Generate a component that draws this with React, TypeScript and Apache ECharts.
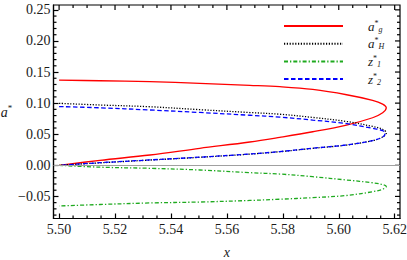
import React, { useEffect, useRef } from "react";
import * as echarts from "echarts";

// a_g* (red)
const agPts: [number, number][] = [
  [5.5, 0.137], [5.5146, 0.136], [5.5325, 0.1345], [5.5503, 0.1318], [5.5682, 0.1286],
  [5.5789, 0.1264], [5.5907, 0.122], [5.6028, 0.1135], [5.6121, 0.1045], [5.6157, 0.0985],
  [5.617, 0.0925],
  [5.6157, 0.0845], [5.6121, 0.0765], [5.6028, 0.0648], [5.5907, 0.054], [5.5789, 0.045],
  [5.5682, 0.0375], [5.5503, 0.0273], [5.5325, 0.0166], [5.5146, 0.008], [5.5, 0.0],
];
// a_H* (black dotted)
const aHPts: [number, number][] = [
  [5.5, 0.0997], [5.5146, 0.097], [5.5325, 0.0942], [5.5503, 0.0895], [5.5682, 0.0849],
  [5.5789, 0.0822], [5.5907, 0.077], [5.6028, 0.0705], [5.6121, 0.0625], [5.6157, 0.058],
  [5.617, 0.052],
  [5.6157, 0.0455], [5.6121, 0.0398], [5.6028, 0.0326], [5.5907, 0.0273], [5.5789, 0.0219],
  [5.5682, 0.018], [5.5503, 0.0129], [5.5325, 0.0085], [5.5146, 0.004], [5.5, 0.0],
];
// z_1* (green dash-dot)
const z1Pts: [number, number][] = [
  [5.5, 0.0], [5.5146, -0.003], [5.5325, -0.0048], [5.5503, -0.0075], [5.5682, -0.0118],
  [5.5789, -0.014], [5.5907, -0.0183], [5.6028, -0.0236], [5.6121, -0.028], [5.6157, -0.031],
  [5.617, -0.034],
  [5.6157, -0.0385], [5.6121, -0.0424], [5.6028, -0.0485], [5.5907, -0.052], [5.5789, -0.0545],
  [5.5682, -0.0565], [5.5503, -0.059], [5.5325, -0.0605], [5.5146, -0.063], [5.5, -0.0654],
];
// z_2* (blue dashed)
const z2Pts: [number, number][] = [
  [5.5, 0.0945], [5.5146, 0.0925], [5.5325, 0.089], [5.5503, 0.085], [5.5682, 0.0805],
  [5.5789, 0.0775], [5.5907, 0.0728], [5.6028, 0.067], [5.6121, 0.0595], [5.6157, 0.0558],
  [5.6166, 0.0515],
  [5.6157, 0.0455], [5.6121, 0.0398], [5.6028, 0.0328], [5.5907, 0.0275], [5.5789, 0.0221],
  [5.5682, 0.0182], [5.5503, 0.0131], [5.5325, 0.0087], [5.5146, 0.0042], [5.5, 0.0],
];

const xMajor = [5.5, 5.52, 5.54, 5.56, 5.58, 5.6, 5.62];
const xMinor = [5.505, 5.51, 5.515, 5.525, 5.53, 5.535, 5.545, 5.55, 5.555, 5.565, 5.57, 5.575, 5.585, 5.59, 5.595, 5.605, 5.61, 5.615];
const yMajor = [-0.05, 0.0, 0.05, 0.1, 0.15, 0.2, 0.25];
const yMinor = [-0.08, -0.07, -0.06, -0.04, -0.03, -0.02, -0.01, 0.01, 0.02, 0.03, 0.04, 0.06, 0.07, 0.08, 0.09, 0.11, 0.12, 0.13, 0.14, 0.16, 0.17, 0.18, 0.19, 0.21, 0.22, 0.23, 0.24];

const X_MIN = 5.498, X_MAX = 5.6219, Y_MIN = -0.0855, Y_MAX = 0.2578;
const MAJOR_LEN = 5, MINOR_LEN = 3;

const SERIF = "Liberation Serif";
const INK = "#1a1a1a";
const fmt = (v: number) => (v < -1e-9 ? "\u2212" + Math.abs(v).toFixed(2) : Math.abs(v).toFixed(2));

const legendLabel: Record<string, string> = {
  ag: "{b|a}{sp|*}{sb|g}",
  aH: "{b|a}{sp|*}{sb|H}",
  z1: "{b|z}{sp|*}{sb|1}",
  z2: "{b|z}{sp|*}{sb|2}",
};

export default function App() {
  const ref = useRef<HTMLDivElement>(null);
  useEffect(() => {
    if (!ref.current) return;
    const chart = echarts.init(ref.current, null, { renderer: "svg" });
    const base = (name: string, data: [number, number][], color: string, type: any, width: number, extra: any = {}) => ({
      name,
      type: "line",
      data,
      smooth: 0.35,
      symbol: "none",
      showSymbol: false,
      lineStyle: { color, type, width },
      itemStyle: { color },
      z: 3,
      ...extra,
    });
    chart.setOption({
      animation: false,
      backgroundColor: "#fff",
      grid: {
        left: 53.5, right: 7, top: 5, bottom: 41.5,
        containLabel: false,
        outerBoundsMode: "none",
        show: true,
        borderColor: "#000",
        borderWidth: 1.2,
        backgroundColor: "transparent",
      },
      xAxis: {
        type: "value",
        min: X_MIN,
        max: X_MAX,
        axisLine: { show: true, onZero: false, lineStyle: { color: "#000", width: 1.2 } },
        axisTick: { show: true, inside: true, length: MAJOR_LEN, customValues: xMajor, lineStyle: { color: "#000", width: 1.2 } },
        axisLabel: { show: true, customValues: xMajor, formatter: fmt, fontFamily: SERIF, fontSize: 14, color: INK, margin: 4 },
        splitLine: { show: false },
        name: "x",
        nameLocation: "middle",
        nameGap: 27,
        nameTextStyle: { fontFamily: SERIF, fontStyle: "italic", fontSize: 14, color: INK },
      },
      yAxis: {
        type: "value",
        min: Y_MIN,
        max: Y_MAX,
        axisLine: { show: true, onZero: false, lineStyle: { color: "#000", width: 1.2 } },
        axisTick: { show: true, inside: true, length: MAJOR_LEN, customValues: yMajor, lineStyle: { color: "#000", width: 1.2 } },
        axisLabel: { show: true, customValues: yMajor, formatter: fmt, fontFamily: SERIF, fontSize: 14, color: INK, margin: 3 },
        splitLine: { show: false },
        name: "{i|a}{s|*}",
        nameLocation: "middle",
        nameRotate: 0,
        nameGap: 40,
        nameTextStyle: {
          fontFamily: SERIF, color: INK,
          rich: {
            i: { fontFamily: SERIF, fontStyle: "italic", fontSize: 14, color: INK, lineHeight: 16, verticalAlign: "bottom" },
            s: { fontFamily: SERIF, fontSize: 9, color: INK, lineHeight: 16, verticalAlign: "top" },
          },
        },
      },
      legend: {
        orient: "vertical",
        left: 278,
        top: 14,
        itemWidth: 59,
        itemHeight: 12,
        itemGap: 3.7,
        itemStyle: { opacity: 0 },
        data: ["ag", "aH", "z1", "z2"],
        formatter: (n: string) => legendLabel[n],
        textStyle: {
          padding: [0, 0, 0, 20],
          rich: {
            b: { fontFamily: SERIF, fontStyle: "italic", fontSize: 13, color: INK, lineHeight: 14, verticalAlign: "middle" },
            sp: { fontFamily: SERIF, fontSize: 8, color: INK, lineHeight: 14, verticalAlign: "top" },
            sb: { fontFamily: SERIF, fontStyle: "italic", fontSize: 8, color: INK, lineHeight: 14, verticalAlign: "bottom" },
          },
        },
      },
      series: [
        base("ag", agPts, "#ff0000", "solid", 1.3, {
          markLine: {
            silent: true,
            symbol: "none",
            label: { show: false },
            lineStyle: { color: "#a0a0a0", width: 1, type: "solid" },
            data: [{ yAxis: 0 }],
          },
        }),
        base("aH", aHPts, "#000000", [1.2, 1.6], 1.3),
        base("z1", z1Pts, "#1faa1f", [4, 2, 1.3, 2], 1.3),
        base("z2", z2Pts, "#0000ff", [4.5, 2.5], 1.3),
      ],
    });

    // Remaining frame ticks (minor ticks, and the top and right sides), placed through the grid's scales.
    const toPx = (x: number, y: number) => chart.convertToPixel({ xAxisIndex: 0, yAxisIndex: 0 }, [x, y]) as number[];
    const [left, bottom] = toPx(X_MIN, Y_MIN);
    const [right, top] = toPx(X_MAX, Y_MAX);
    const tickStyle = { stroke: "#000", lineWidth: 1.2 };
    const ticks: any[] = [];
    const seg = (x1: number, y1: number, x2: number, y2: number) =>
      ticks.push({ type: "line", shape: { x1, y1, x2, y2 }, style: tickStyle });
    xMajor.forEach((v) => { const px = toPx(v, Y_MIN)[0]; seg(px, top, px, top + MAJOR_LEN); });
    xMinor.forEach((v) => { const px = toPx(v, Y_MIN)[0]; seg(px, top, px, top + MINOR_LEN); seg(px, bottom, px, bottom - MINOR_LEN); });
    yMajor.forEach((v) => { const py = toPx(X_MIN, v)[1]; seg(right, py, right - MAJOR_LEN, py); });
    yMinor.forEach((v) => { const py = toPx(X_MIN, v)[1]; seg(right, py, right - MINOR_LEN, py); seg(left, py, left + MINOR_LEN, py); });
    chart.setOption({ graphic: ticks });

    return () => chart.dispose();
  }, []);
  return <div ref={ref} style={{ position: "fixed", left: 0, top: 0, width: 407, height: 260 }} />;
}
